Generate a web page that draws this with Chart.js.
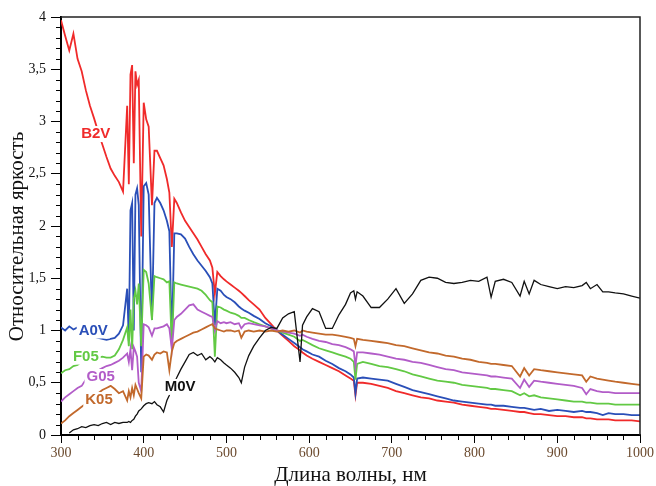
<!DOCTYPE html>
<html>
<head>
<meta charset="utf-8">
<script src="https://cdn.jsdelivr.net/npm/chart.js@4.4.0/dist/chart.umd.min.js"></script>
<style>
html, body { margin: 0; padding: 0; background: #fff; }
</style>
</head>
<body>
<canvas id="spectra" width="656" height="486"></canvas>
<script>
// wavelengths, nm
var wavelengths = [
    300, 305, 310, 315, 320, 325, 330, 335, 340, 345, 350, 355, 360, 365, 370, 375, 380,
    382, 384, 386, 388, 390, 392, 394, 397, 400, 403, 406, 410, 413, 416, 420, 424, 428, 431, 434, 437, 440,
    445, 450, 455, 460, 465, 470, 475, 480, 483, 486, 489, 493, 497, 500,
    505, 510, 515, 518, 522, 527, 533, 540, 547, 554, 561, 568, 575, 582, 589, 592, 597, 604, 612, 620, 628, 636, 644, 650, 654, 656, 658,
    665, 675, 685, 695, 705, 715, 725, 735, 745, 755, 765, 775, 785, 795, 805, 815, 820, 825, 835, 845,
    855, 860, 866, 872, 880, 890, 900, 910, 920, 930, 935, 940, 948, 955, 962, 970, 980, 990, 1000
];

var b2v = [
    3.97, 3.82, 3.68, 3.84, 3.60, 3.48, 3.30, 3.15, 3.03, 2.90, 2.78, 2.66, 2.55, 2.48, 2.42, 2.33, 3.15,
    2.40, 3.45, 3.54, 2.60, 3.48, 3.35, 3.40, 1.90, 3.18, 3.02, 2.95, 2.20, 2.72, 2.72, 2.65, 2.58, 2.45, 2.32, 1.80, 2.26, 2.22,
    2.13, 2.05, 1.99, 1.93, 1.87, 1.80, 1.73, 1.67, 1.60, 1.35, 1.56, 1.52, 1.49, 1.47,
    1.44, 1.41, 1.38, 1.36, 1.33, 1.29, 1.25, 1.20, 1.12, 1.06, 1.00, 0.95, 0.90, 0.85, 0.81, 0.79, 0.76, 0.73, 0.70, 0.67, 0.64, 0.61, 0.57, 0.54, 0.52, 0.38, 0.50,
    0.50, 0.49, 0.47, 0.45, 0.42, 0.40, 0.38, 0.36, 0.35, 0.33, 0.32, 0.31, 0.29, 0.28, 0.27, 0.26, 0.25, 0.25, 0.24, 0.23,
    0.22, 0.22, 0.21, 0.20, 0.20, 0.19, 0.18, 0.18, 0.17, 0.17, 0.16, 0.16, 0.15, 0.15, 0.15, 0.14, 0.14, 0.14, 0.13
];

var a0v = [
    1.03, 1.00, 1.04, 1.01, 1.03, 1.00, 0.98, 0.96, 0.94, 0.93, 0.92, 0.91, 0.92, 0.93, 0.97, 1.05, 1.40,
    0.90, 2.15, 2.22, 1.00, 2.30, 2.36, 2.20, 0.60, 2.38, 2.41, 2.30, 1.10, 2.22, 2.27, 2.22, 2.15, 2.05, 1.95, 0.90, 1.93, 1.93,
    1.92, 1.88, 1.80, 1.73, 1.67, 1.62, 1.57, 1.51, 1.45, 1.05, 1.40, 1.38, 1.34, 1.32,
    1.30, 1.27, 1.23, 1.21, 1.19, 1.17, 1.14, 1.11, 1.07, 1.04, 1.00, 0.96, 0.92, 0.88, 0.84, 0.82, 0.80, 0.77, 0.75, 0.71, 0.68, 0.64, 0.61, 0.58, 0.55, 0.40, 0.54,
    0.55, 0.54, 0.53, 0.52, 0.49, 0.46, 0.43, 0.41, 0.39, 0.37, 0.35, 0.33, 0.32, 0.31, 0.30, 0.29, 0.29, 0.28, 0.28, 0.27,
    0.26, 0.26, 0.25, 0.24, 0.25, 0.23, 0.24, 0.23, 0.22, 0.23, 0.22, 0.22, 0.21, 0.19, 0.21, 0.20, 0.20, 0.19, 0.19
];

var f05 = [
    0.59, 0.62, 0.63, 0.66, 0.67, 0.70, 0.71, 0.72, 0.73, 0.74, 0.75, 0.74, 0.74, 0.76, 0.82, 0.91, 1.03,
    0.85, 1.20, 0.82, 1.30, 1.38, 1.25, 1.45, 0.85, 1.58, 1.56, 1.45, 1.10, 1.52, 1.51, 1.50, 1.49, 1.46, 1.47, 0.85, 1.46, 1.45,
    1.44, 1.43, 1.42, 1.41, 1.40, 1.38, 1.34, 1.29, 1.27, 0.75, 1.23, 1.22, 1.20, 1.19,
    1.17, 1.16, 1.14, 1.12, 1.12, 1.10, 1.08, 1.06, 1.04, 1.02, 1.00, 0.98, 0.96, 0.94, 0.90, 0.91, 0.89, 0.86, 0.83, 0.81, 0.79, 0.77, 0.75, 0.73, 0.70, 0.53, 0.68,
    0.70, 0.68, 0.66, 0.65, 0.63, 0.61, 0.58, 0.56, 0.54, 0.52, 0.51, 0.50, 0.48, 0.47, 0.46, 0.45, 0.44, 0.44, 0.43, 0.42,
    0.38, 0.40, 0.37, 0.38, 0.36, 0.35, 0.34, 0.33, 0.32, 0.32, 0.31, 0.31, 0.30, 0.30, 0.30, 0.29, 0.29, 0.29, 0.29
];

var g05 = [
    0.32, 0.36, 0.39, 0.42, 0.45, 0.47, 0.53, 0.57, 0.60, 0.62, 0.64, 0.66, 0.67, 0.69, 0.71, 0.74, 0.78,
    0.70, 0.82, 0.62, 0.84, 0.80, 0.75, 0.50, 0.42, 1.06, 1.05, 1.03, 0.95, 1.02, 1.02, 1.03, 1.04, 1.06, 1.02, 0.82, 1.10, 1.13,
    1.16, 1.20, 1.24, 1.25, 1.20, 1.18, 1.16, 1.14, 1.13, 1.00, 1.09, 1.07, 1.08, 1.07,
    1.08, 1.06, 1.07, 1.02, 1.06, 1.07, 1.06, 1.05, 1.04, 1.02, 1.00, 0.99, 0.98, 0.97, 0.95, 0.96, 0.94, 0.92, 0.90, 0.89, 0.87, 0.86, 0.84, 0.82, 0.80, 0.66, 0.79,
    0.79, 0.78, 0.77, 0.75, 0.73, 0.72, 0.70, 0.69, 0.67, 0.65, 0.63, 0.62, 0.60, 0.59, 0.58, 0.57, 0.56, 0.56, 0.55, 0.54,
    0.45, 0.53, 0.46, 0.52, 0.51, 0.50, 0.49, 0.48, 0.47, 0.45, 0.39, 0.44, 0.42, 0.41, 0.41, 0.40, 0.40, 0.40, 0.40
];

var k05 = [
    0.11, 0.14, 0.18, 0.21, 0.24, 0.27, 0.30, 0.33, 0.37, 0.40, 0.43, 0.45, 0.47, 0.44, 0.40, 0.42, 0.33,
    0.42, 0.36, 0.45, 0.38, 0.48, 0.44, 0.40, 0.35, 0.75, 0.77, 0.76, 0.72, 0.77, 0.79, 0.78, 0.80, 0.79, 0.62, 0.80, 0.88, 0.90,
    0.92, 0.94, 0.96, 0.98, 0.99, 1.01, 1.03, 1.05, 1.06, 1.02, 1.01, 1.00, 0.99, 1.00,
    1.00, 0.99, 1.00, 0.93, 0.99, 1.00, 0.99, 1.00, 0.99, 1.00, 0.99, 1.00, 0.99, 1.00, 0.98, 1.00, 0.99, 0.98, 0.97, 0.96, 0.96, 0.95, 0.94, 0.93, 0.92, 0.85, 0.92,
    0.91, 0.90, 0.89, 0.88, 0.86, 0.85, 0.83, 0.81, 0.79, 0.78, 0.76, 0.75, 0.73, 0.72, 0.70, 0.69, 0.68, 0.68, 0.67, 0.66,
    0.56, 0.64, 0.57, 0.63, 0.62, 0.61, 0.60, 0.59, 0.58, 0.57, 0.51, 0.56, 0.54, 0.53, 0.52, 0.51, 0.50, 0.49, 0.48
];

var m0v = [
    null, null, 0.02, 0.05, 0.06, 0.08, 0.07, 0.09, 0.10, 0.09, 0.11, 0.12, 0.10, 0.12, 0.11, 0.12, 0.12,
    0.13, 0.12, 0.14, 0.15, 0.18, 0.20, 0.23, 0.25, 0.28, 0.30, 0.31, 0.30, 0.32, 0.29, 0.27, 0.22, 0.33, 0.38, 0.45, 0.50, 0.55,
    0.63, 0.70, 0.77, 0.79, 0.76, 0.78, 0.72, 0.75, 0.73, 0.70, 0.74, 0.72, 0.69, 0.67,
    0.64, 0.60, 0.55, 0.50, 0.65, 0.76, 0.85, 0.93, 1.00, 1.03, 1.02, 1.12, 1.16, 1.18, 0.70, 1.05, 1.13, 1.21, 1.18, 1.02, 1.02, 1.15, 1.25, 1.36, 1.38, 1.30, 1.37,
    1.33, 1.22, 1.22, 1.30, 1.40, 1.26, 1.35, 1.48, 1.51, 1.50, 1.46, 1.45, 1.46, 1.48, 1.47, 1.51, 1.32, 1.47, 1.49, 1.46,
    1.33, 1.47, 1.35, 1.48, 1.44, 1.42, 1.40, 1.42, 1.41, 1.43, 1.46, 1.40, 1.44, 1.37, 1.37, 1.36, 1.35, 1.33, 1.31
];

// series name tags, anchored in data units (wavelength, brightness)
var tagNames = ['B2V', 'A0V', 'F05', 'G05', 'K05', 'M0V'];
var tagX = [342, 339, 330, 348, 346, 444];
var tagY = [2.88, 1.0, 0.75, 0.555, 0.335, 0.46];

var colors = {
    B2V: '#f02a2a',
    A0V: '#2a4fb8',
    F05: '#62c944',
    G05: '#b25cc8',
    K05: '#c2692c',
    M0V: '#111111'
};

function points(values) {
    return wavelengths.map(function (w, i) {
        return {x: w, y: values[i]};
    });
}

function series(name, values, width) {
    return {
        label: name,
        data: points(values),
        borderColor: colors[name],
        borderWidth: width,
        pointRadius: 0,
        tension: 0,
        fill: false
    };
}

var tagsPlugin = {
    id: 'tags',
    afterDatasetsDraw: function (chart) {
        var ctx = chart.ctx;
        var x = chart.scales.x, y = chart.scales.y;
        ctx.save();
        ctx.font = 'bold 15px "Liberation Sans", Arial, sans-serif';
        ctx.textAlign = 'center';
        ctx.textBaseline = 'middle';
        tagNames.forEach(function (name, i) {
            var px = x.getPixelForValue(tagX[i]);
            var py = y.getPixelForValue(tagY[i]);
            var w = ctx.measureText(name).width;
            ctx.fillStyle = '#fff';
            ctx.fillRect(px - w / 2 - 2, py - 8, w + 4, 16);
            ctx.fillStyle = colors[name];
            ctx.fillText(name, px, py);
        });
        ctx.restore();
    }
};

var framePlugin = {
    id: 'frame',
    afterDraw: function (chart) {
        var ctx = chart.ctx, a = chart.chartArea;
        var x = chart.scales.x, y = chart.scales.y;
        ctx.save();
        ctx.strokeStyle = '#000';
        ctx.lineWidth = 1;
        ctx.beginPath();
        for (var v = 320; v < 1000; v += 20) {
            if (v % 100 === 0) continue;
            var px = Math.round(x.getPixelForValue(v)) + 0.5;
            ctx.moveTo(px, a.bottom);
            ctx.lineTo(px, a.bottom + 5);
        }
        for (var i = 1; i < 40; i++) {
            if (i % 5 === 0) continue;
            var py = Math.round(y.getPixelForValue(i / 10)) + 0.5;
            ctx.moveTo(a.left - 5, py);
            ctx.lineTo(a.left, py);
        }
        ctx.stroke();
        ctx.strokeStyle = '#222';
        ctx.lineWidth = 1.5;
        ctx.beginPath();
        ctx.moveTo(a.left, a.top);
        ctx.lineTo(a.right, a.top);
        ctx.lineTo(a.right, a.bottom);
        ctx.stroke();
        ctx.restore();
    }
};

var serif = '"Liberation Serif", "Times New Roman", serif';

var ctx = document.getElementById('spectra').getContext('2d');
new Chart(ctx, {
    type: 'line',
    data: {
        datasets: [
            series('M0V', m0v, 1.3),
            series('K05', k05, 1.8),
            series('G05', g05, 1.8),
            series('F05', f05, 1.8),
            series('A0V', a0v, 1.8),
            series('B2V', b2v, 1.8)
        ]
    },
    options: {
        responsive: false,
        animation: false,
        devicePixelRatio: 1,
        layout: {padding: {top: 17, right: 15, left: 0, bottom: 0}},
        plugins: {
            legend: {display: false},
            tooltip: {enabled: false}
        },
        scales: {
            x: {
                type: 'linear',
                min: 300,
                max: 1000,
                afterFit: function (scale) { scale.height = 51; },
                ticks: {
                    stepSize: 100,
                    padding: 2,
                    color: '#6b4a2e',
                    font: {family: serif, size: 14},
                    callback: function (v) { return String(v); }
                },
                grid: {drawOnChartArea: false, drawTicks: true, tickLength: 8, color: '#000'},
                border: {color: '#000', width: 2},
                title: {
                    display: true,
                    text: 'Длина волны, нм',
                    color: '#111',
                    font: {family: serif, size: 21, lineHeight: 1},
                    padding: {top: 0, bottom: 0}
                }
            },
            y: {
                min: 0,
                max: 4,
                afterFit: function (scale) { scale.width = 61; },
                ticks: {
                    stepSize: 0.5,
                    padding: 5,
                    color: '#111',
                    font: {family: serif, size: 14},
                    callback: function (v) { return String(v).replace('.', ','); }
                },
                grid: {drawOnChartArea: false, drawTicks: true, tickLength: 10, color: '#000'},
                border: {color: '#000', width: 2},
                title: {
                    display: true,
                    text: 'Относительная яркость    ',
                    color: '#111',
                    font: {family: serif, size: 21, lineHeight: 1},
                    padding: {top: 7, bottom: 0}
                }
            }
        }
    },
    plugins: [tagsPlugin, framePlugin]
});
</script>
</body>
</html>
